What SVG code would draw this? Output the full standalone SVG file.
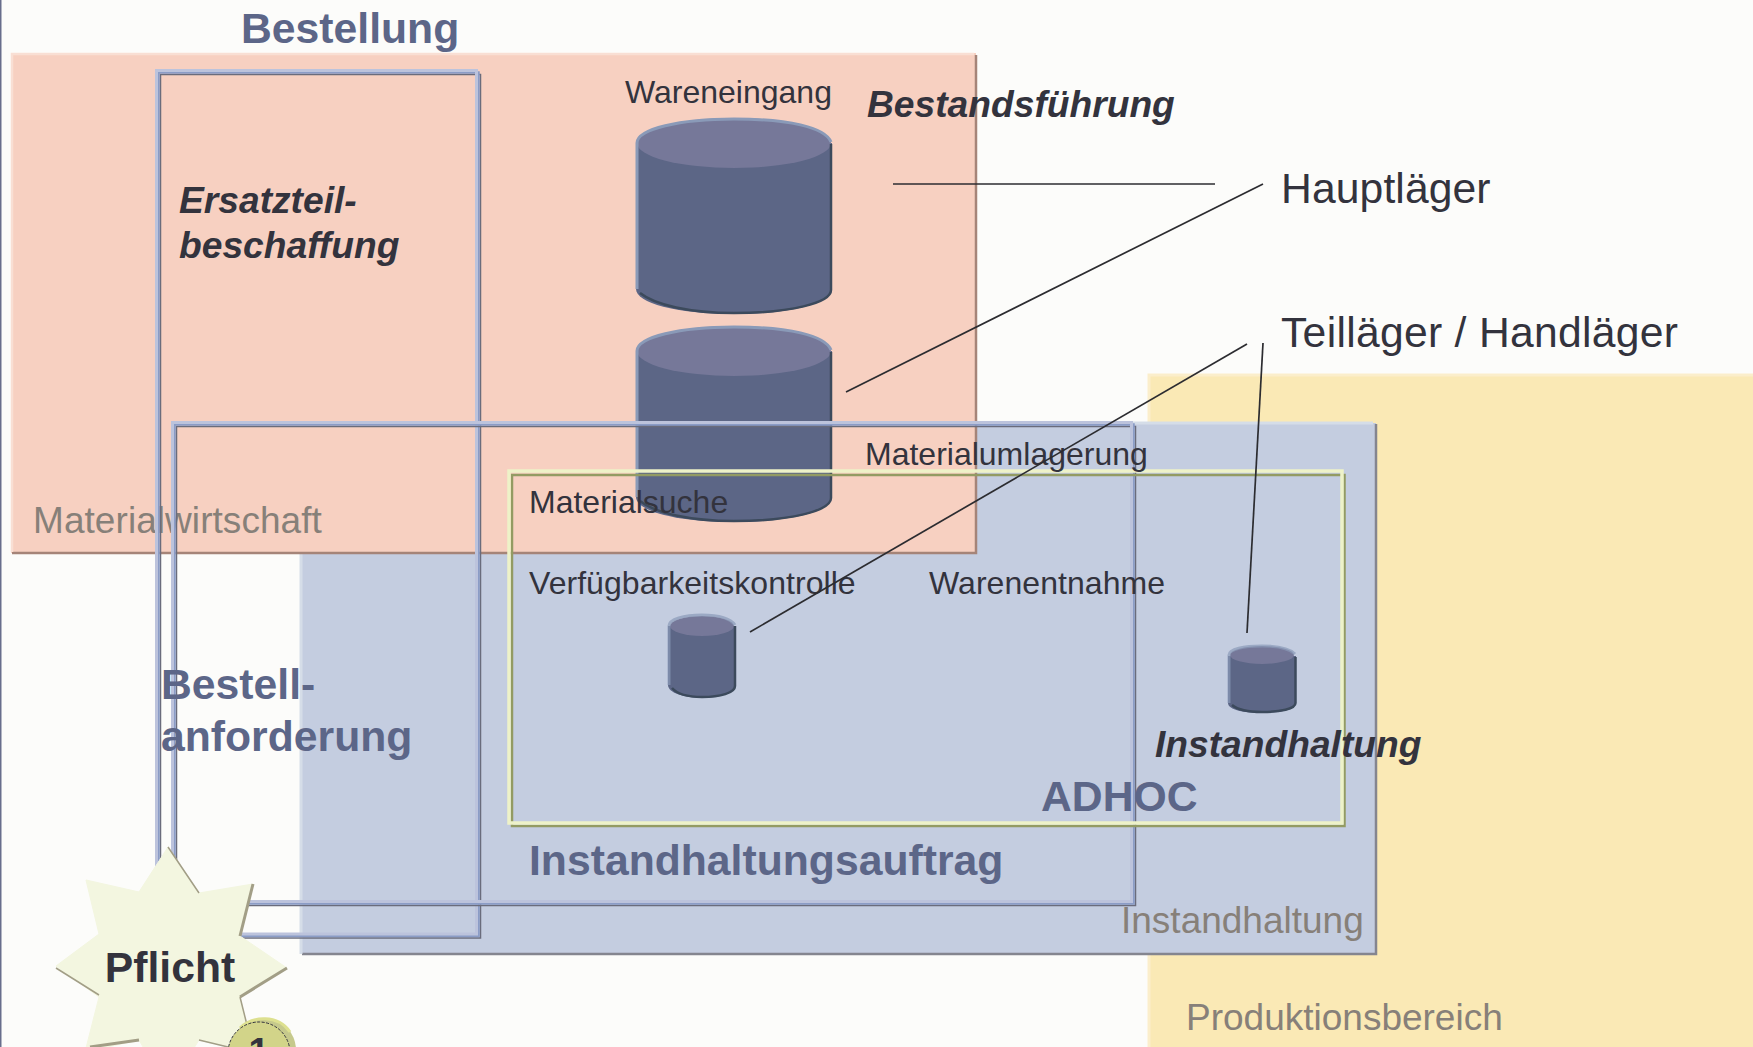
<svg xmlns="http://www.w3.org/2000/svg" width="1753" height="1047" viewBox="0 0 1753 1047">
<style>
text{font-family:"Liberation Sans",Arial,sans-serif;fill:#33333d}
.m{font-size:32px}.l{font-size:42.67px}.g{font-size:37px;fill:#878079}
.h{font-size:42.7px;font-weight:bold;fill:#5c6688}
.bi{font-size:37.2px;font-weight:bold;font-style:italic}
.f1{fill:none;stroke:#bcc3dc;stroke-width:3}.f2{fill:none;stroke:#8b9cc6;stroke-width:2.5}.f3{fill:none;stroke:#6a6c7c;stroke-width:1.5}
.y1{fill:none;stroke:#eef2c8;stroke-width:3.500}.y2{fill:none;stroke:#939b63;stroke-width:2.5}
.body{fill:#5c6686}.top{fill:#767899}.hi{fill:none;stroke:#8a9ab8;stroke-width:3}.sh{fill:none;stroke:#3c4a5c;stroke-width:2.5}
.ln{stroke:#2c2c30;stroke-width:1.7;fill:none}
</style>
<rect width="1753" height="1047" fill="#fcfcfa"/>
<rect x="0" y="0" width="1.5" height="1047" fill="#686e8c"/>
<g id="produktionsbereich">
<rect x="1149" y="375" width="604" height="672" fill="#fae9b5"/>
<path d="M1149 1047V375H1753" fill="none" stroke="#fbeecb" stroke-width="3"/>
<text class="g" x="1186" y="1030">Produktionsbereich</text>
</g>
<g id="instandhaltung">
<rect x="301" y="423" width="1075" height="531" fill="#c4cde0"/>
<path d="M1376 424V954H302" fill="none" stroke="#84858f" stroke-width="2.5"/>
<path d="M301 954V423H1373" fill="none" stroke="#d5dde8" stroke-width="3"/>
</g>
<g id="materialwirtschaft">
<rect x="11" y="53" width="965" height="500" fill="#f7d0c1"/>
<path d="M976 55V553H12" fill="none" stroke="#a58478" stroke-width="2.5"/>
<path d="M12 552V54H974" fill="none" stroke="#f9dfd4" stroke-width="2.500"/>
<text class="g" x="33" y="533" style="letter-spacing:.06px">Materialwirtschaft</text>
</g>
<g id="wareneingang-speicher">
<path class="body" d="M636 143V289C636 303 676 314 734 314S832 303 832 289V143Z"/>
<ellipse class="top" cx="734" cy="143" rx="97" ry="25"/>
<path class="hi" d="M637 289V143C637 129 680 119 734 119S825 127 831 142"/>
<path class="sh" d="M831 144V290C831 303 790 313 734 313C690 313 655 305 640 293"/>
</g>
<g id="hauptlager-speicher">
<path class="body" d="M636 351V497C636 511 676 522 734 522S832 511 832 497V351Z"/>
<ellipse class="top" cx="734" cy="351" rx="97" ry="25"/>
<path class="hi" d="M637 497V351C637 337 680 327 734 327S825 335 831 350"/>
<path class="sh" d="M831 352V498C831 511 790 521 734 521C690 521 655 513 640 501"/>
</g>
<g id="speicher-klein-1">
<path class="body" d="M668 626V685C668 693 685 698 702 698S736 693 736 685V626Z"/>
<ellipse class="top" cx="702" cy="626" rx="32" ry="10"/>
<path class="hi" d="M669 685V626C669 619 684 615 702 615S730 618 735 625" opacity=".7"/>
<path class="sh" d="M735 626V686C735 693 720 697 702 697C690 697 678 695 672 688"/>
</g>
<g id="speicher-klein-2">
<path class="body" d="M1228 656V703C1228 710 1245 713 1262 713S1296 710 1296 703V656Z"/>
<ellipse class="top" cx="1262" cy="655" rx="32" ry="9"/>
<path class="hi" d="M1229 703V655C1229 649 1244 646 1262 646S1290 649 1295 654" opacity=".7"/>
<path class="sh" d="M1295.500 657V703C1295.500 709 1280 712 1262 712C1250 712 1238 710 1232 705"/>
</g>
<g id="bestellung">
<rect class="f3" x="160.500" y="74.500" width="320" height="863.500"/>
<rect class="f2" x="158.500" y="72.500" width="320" height="863.500"/>
<rect class="f1" x="156.500" y="70.500" width="320" height="863.500"/>
<text class="h" x="241" y="43">Bestellung</text>
</g>
<g id="instandhaltungsauftrag">
<rect class="f3" x="176.500" y="426.500" width="959" height="479"/>
<rect class="f2" x="174.500" y="424.500" width="959" height="479"/>
<rect class="f1" x="172.500" y="422.500" width="959" height="479"/>
<text class="h" x="161" y="699">Bestell-</text>
<text class="h" x="161" y="751">anforderung</text>
<text class="h" x="529" y="875">Instandhaltungsauftrag</text>
</g>
<g id="adhoc">
<rect class="y2" x="512" y="475" width="832.500" height="351"/>
<rect class="y1" x="509" y="471" width="833" height="352"/>
<text class="h" x="1041" y="811">ADHOC</text>
</g>
<g id="labels">
<text class="m" x="625" y="103">Wareneingang</text>
<text class="bi" x="867" y="117">Bestandsführung</text>
<text class="bi" x="179" y="213">Ersatzteil-</text>
<text class="bi" x="179" y="258">beschaffung</text>
<text class="l" x="1281" y="203" style="letter-spacing:.1px">Hauptläger</text>
<text class="l" x="1281" y="347" style="letter-spacing:.29px">Teilläger / Handläger</text>
<text class="m" x="865" y="465">Materialumlagerung</text>
<text class="m" x="529" y="513">Materialsuche</text>
<text class="m" x="529" y="594" style="letter-spacing:.05px">Verfügbarkeitskontrolle</text>
<text class="m" x="929" y="594" style="letter-spacing:.05px">Warenentnahme</text>
<text class="bi" x="1155" y="757">Instandhaltung</text>
<text class="g" x="1121" y="933">Instandhaltung</text>
</g>
<g id="connectors">
<path class="ln" d="M893 184H1215"/>
<path class="ln" d="M1263 184L846 392"/>
<path class="ln" d="M1247 344L750 632"/>
<path class="ln" d="M1263 343L1247 633"/>
</g>
<g id="pflicht">
<polygon points="168,847 199,893 253,884 240,936 287,968 240,997 253,1052 199,1040 168,1090 139,1040 85,1052 99,997 56,966 99,934 86,880 139,892" fill="#f3f6e0" stroke="#f3f6e0" stroke-width="1"/>
<path d="M168 847L199 893M240 997L247 1025M56 968L99 995M199 1040L228 1047" fill="none" stroke="#a29e86" stroke-width="1.500"/>
<path d="M253 884L240 936M287 968L240 997M90 1047L139 1040" fill="none" stroke="#a29e86" stroke-width="3"/>
<text x="170" y="982" text-anchor="middle" font-size="42.67" font-weight="bold">Pflicht</text>
</g>
<g id="badge">
<circle cx="264" cy="1050" r="32" fill="#c6c98c"/>
<path d="M240 1028C252 1016 278 1014 290 1032" fill="none" stroke="#dde08f" stroke-width="3"/>
<circle cx="259" cy="1053" r="31" fill="#d2d489"/>
<circle cx="259" cy="1053" r="31" fill="none" stroke="#33333d" stroke-width="1" stroke-dasharray="3 1.500"/>
<text x="259" y="1064" text-anchor="middle" font-size="37.33" font-weight="bold">1</text>
</g>
</svg>
